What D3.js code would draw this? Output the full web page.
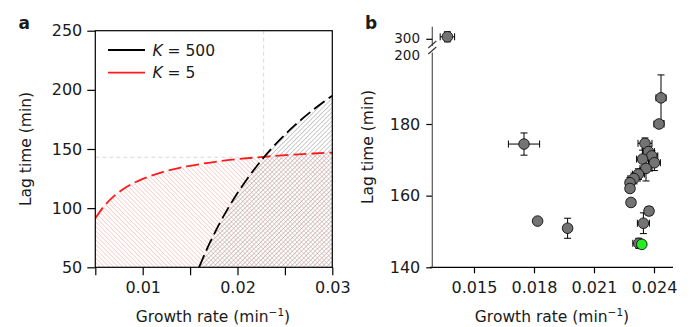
<!DOCTYPE html>
<html><head><meta charset="utf-8">
<script src="https://cdn.jsdelivr.net/npm/d3@7"></script>
<style>
body{margin:0;background:#fff;}
text{font-family:"DejaVu Sans",sans-serif;fill:#1a1a1a;}
</style></head>
<body><svg id="c" width="690" height="327"></svg>
<script>
// ---------- Panel a data ----------
const k500Rate = [0.01594,0.017,0.018,0.019,0.020,0.021,0.022,0.023,0.024,0.025,0.026,0.027,0.028,0.029,0.030];
const k500Lag  = [50.0,69.3,85.4,99.8,112.8,124.5,135.2,145.0,153.9,162.1,169.7,176.7,183.2,189.3,195.0];
const k5Rate = [0.005,0.006,0.007,0.008,0.009,0.010,0.012,0.014,0.016,0.018,0.020,0.022,0.024,0.026,0.028,0.030];
const k5Lag  = [91.4,102.5,110.4,116.4,121.0,124.7,130.3,134.3,137.2,139.6,141.4,142.9,144.2,145.3,146.2,147.0];
const crossRate = 0.02276, crossLag = 143;
const aXTicks = [0.005,0.01,0.015,0.02,0.025,0.03];
const aXLabels = ["","0.01","","0.02","","0.03"];
const aYTicks = [50,100,150,200,250];
const legendLabels = ["500","5"];

// ---------- Panel b data ----------
const bRate = [0.01367,0.0175,0.01818,0.01968,0.02435,0.02425,0.02355,0.02372,0.02389,0.02343,0.02402,0.02360,0.02322,0.02300,0.02280,0.02280,0.02285,0.02375,0.02347,0.02324];
const bLag  = [300.7,174.4,152.9,150.9,187.3,180.0,174.6,172.3,171.1,170.2,169.2,167.6,166.0,164.8,163.6,162.0,158.1,155.7,152.3,146.7];
const bRateErr = [0.00036,0.00078,0.0001,0.0002,0.00025,0.00025,0.00035,0.0003,0.0003,0.0003,0.0003,0.0003,0.0003,0.0003,0.0002,0.0002,0.0002,0.0002,0.0003,0.0003];
const bLagErr  = [1.4,3.1,0.5,2.8,6.4,1.0,1.5,1.5,1.5,2.5,2.2,3.5,1.5,1.5,1.5,1.0,1.0,1.2,2.9,1.4];
const greenRate = [0.02339], greenLag = [146.4];
const bXTicks = [0.015,0.018,0.021,0.024];
const bYTicks = [140,160,180];

const svg = d3.select("#c");

// ================= Panel a =================
const xa = d3.scaleLinear().domain([0.005,0.03]).range([95.3,332.3]);
const ya = d3.scaleLinear().domain([50,250]).range([267.3,30.7]);

const defs = svg.append("defs");
function hatch(id, color, angle){
  const p = defs.append("pattern").attr("id",id).attr("patternUnits","userSpaceOnUse")
    .attr("width",3.2).attr("height",3.2).attr("patternTransform",`rotate(${angle})`);
  p.append("line").attr("x1",0).attr("y1",0).attr("x2",0).attr("y2",3.2)
    .attr("stroke",color).attr("stroke-width",1.1);
}
hatch("hr","#f4b3b3",-45);
hatch("hg","#a3a3a3",45);
defs.append("clipPath").attr("id","clipA").append("rect")
  .attr("x",95.3).attr("y",30.7).attr("width",237).attr("height",236.6);

const k5 = k5Rate.map((r,i)=>[r,k5Lag[i]]);
const k500 = k500Rate.map((r,i)=>[r,k500Lag[i]]);
const area = d3.area().x(d=>xa(d[0])).y0(ya(50)).y1(d=>ya(d[1])).curve(d3.curveMonotoneX);
const line = d3.line().x(d=>xa(d[0])).y(d=>ya(d[1])).curve(d3.curveMonotoneX);
const ga = svg.append("g").attr("clip-path","url(#clipA)");
ga.append("path").datum(k5).attr("d",area).attr("fill","url(#hr)");
ga.append("path").datum(k500).attr("d",area).attr("fill","url(#hg)");

// reference dashed lines
ga.append("line").attr("x1",xa(crossRate)).attr("x2",xa(crossRate)).attr("y1",ya(250)).attr("y2",ya(crossLag))
  .attr("stroke","#d8d8d8").attr("stroke-width",1).attr("stroke-dasharray","4,3");
ga.append("line").attr("x1",xa(0.005)).attr("x2",xa(crossRate)).attr("y1",ya(crossLag)).attr("y2",ya(crossLag))
  .attr("stroke","#d8d8d8").attr("stroke-width",1).attr("stroke-dasharray","4,3");

ga.append("path").datum(k5).attr("d",line).attr("fill","none").attr("stroke","#ff1a1a")
  .attr("stroke-width",1.8).attr("stroke-dasharray","13,5");
ga.append("path").datum(k500).attr("d",line).attr("fill","none").attr("stroke","#000")
  .attr("stroke-width",1.8).attr("stroke-dasharray","13,5");

// frame
svg.append("rect").attr("x",95.3).attr("y",30.7).attr("width",237).attr("height",236.6)
  .attr("fill","none").attr("stroke","#000").attr("stroke-width",1.2);

const axA = svg.append("g").attr("transform","translate(0,267.3)")
  .call(d3.axisBottom(xa).tickValues(aXTicks).tickFormat((d,i)=>aXLabels[i]).tickSize(8).tickPadding(6));
const ayA = svg.append("g").attr("transform","translate(95.3,0)")
  .call(d3.axisLeft(ya).tickValues(aYTicks).tickFormat(d3.format("d")).tickSize(8).tickPadding(5));
[axA,ayA].forEach(g=>{
  g.select(".domain").remove();
  g.selectAll(".tick line").attr("stroke","#000").attr("stroke-width",1.2);
  g.selectAll(".tick text").attr("font-size",16).attr("fill","#1a1a1a").attr("font-family","DejaVu Sans");
});

// legend
const legColors = ["#000","#ff1a1a"];
legendLabels.forEach((lab,i)=>{
  const y = 50 + i*22.7;
  svg.append("line").attr("x1",108).attr("x2",145).attr("y1",y).attr("y2",y)
    .attr("stroke",legColors[i]).attr("stroke-width",1.8);
  const t = svg.append("text").attr("x",152.5).attr("y",y+5.6).attr("font-size",15.5);
  t.append("tspan").attr("font-style","italic").text("K");
  t.append("tspan").text(" = " + lab);
});

svg.append("text").attr("x",18.5).attr("y",29).attr("font-size",17).attr("font-weight","bold").text("a");
svg.append("text").attr("transform","translate(31,149) rotate(-90)").attr("text-anchor","middle")
  .attr("font-size",15.5).text("Lag time (min)");
function xlabel(x){
  const t = svg.append("text").attr("x",x).attr("y",322).attr("text-anchor","middle").attr("font-size",15.5);
  t.append("tspan").text("Growth rate (min");
  t.append("tspan").attr("font-size",10.5).attr("dy",-6).text("−1");
  t.append("tspan").attr("dy",6).text(")");
}
xlabel(213);

// ================= Panel b =================
const xb = d3.scaleLinear().domain([0.015,0.024]).range([474,654]);
const yb = d3.scaleLinear().domain([140,180]).range([267.3,124]);
const pxPerMin = (267.3-124)/40;
const ybTop = d3.scaleLinear().domain([300,301]).range([39.3,39.3-pxPerMin]);
const yAny = v => v >= 250 ? ybTop(v) : yb(v);

// x axis
const axB = svg.append("g").attr("transform","translate(0,267.3)")
  .call(d3.axisBottom(xb).tickValues(bXTicks).tickFormat(d3.format(".3f")).tickSize(6).tickPadding(8));
axB.select(".domain").remove();
axB.append("line").attr("x1",430).attr("x2",673).attr("y1",0).attr("y2",0).attr("stroke","#000").attr("stroke-width",1.2);
// y axis
const ayB = svg.append("g").attr("transform","translate(432.3,0)")
  .call(d3.axisLeft(yb).tickValues(bYTicks).tickFormat(d3.format("d")).tickSize(6).tickPadding(6));
ayB.select(".domain").remove();
[axB,ayB].forEach(g=>{
  g.selectAll(".tick line").attr("stroke","#000").attr("stroke-width",1.2);
  g.selectAll(".tick text").attr("font-size",16).attr("fill","#1a1a1a").attr("font-family","DejaVu Sans");
});
const axisCol = "#555";
svg.append("line").attr("x1",432.3).attr("x2",432.3).attr("y1",267.3).attr("y2",52.5).attr("stroke",axisCol).attr("stroke-width",1.2);
svg.append("line").attr("x1",432.3).attr("x2",432.3).attr("y1",26.7).attr("y2",46).attr("stroke",axisCol).attr("stroke-width",1.2);
// top segment tick
svg.append("line").attr("x1",426.3).attr("x2",432.3).attr("y1",ybTop(300)).attr("y2",ybTop(300)).attr("stroke","#000").attr("stroke-width",1.2);
svg.append("text").attr("x",420).attr("y",43).attr("text-anchor","end").attr("font-size",13.5).text("300");
svg.append("text").attr("x",420).attr("y",59.5).attr("text-anchor","end").attr("font-size",13.5).text("200");
// break marks
[[44.5],[50.5]].forEach(([y])=>{
  svg.append("line").attr("x1",428.3).attr("x2",436.3).attr("y1",y+3.5).attr("y2",y-3.5).attr("stroke","#333").attr("stroke-width",1.1);
});

// error bars
const gb = svg.append("g");
const cap = 3.5;
bRate.forEach((r,i)=>{
  const cx = xb(r), cy = yAny(bLag[i]);
  const x0 = xb(r-bRateErr[i]), x1 = xb(r+bRateErr[i]);
  const y0 = yAny(bLag[i]-bLagErr[i]), y1 = yAny(bLag[i]+bLagErr[i]);
  const g = gb.append("g").attr("stroke","#000").attr("stroke-width",1);
  g.append("line").attr("x1",x0).attr("x2",x1).attr("y1",cy).attr("y2",cy);
  g.append("line").attr("x1",x0).attr("x2",x0).attr("y1",cy-cap).attr("y2",cy+cap);
  g.append("line").attr("x1",x1).attr("x2",x1).attr("y1",cy-cap).attr("y2",cy+cap);
  g.append("line").attr("x1",cx).attr("x2",cx).attr("y1",y0).attr("y2",y1);
  g.append("line").attr("x1",cx-cap).attr("x2",cx+cap).attr("y1",y0).attr("y2",y0);
  g.append("line").attr("x1",cx-cap).attr("x2",cx+cap).attr("y1",y1).attr("y2",y1);
});
gb.selectAll("circle.pt").data(bRate.map((r,i)=>[r,bLag[i]])).enter().append("circle")
  .attr("class","pt").attr("cx",d=>xb(d[0])).attr("cy",d=>yAny(d[1])).attr("r",5.3)
  .attr("fill","#737373").attr("stroke","#111").attr("stroke-width",0.9);
gb.selectAll("circle.gr").data(greenRate.map((r,i)=>[r,greenLag[i]])).enter().append("circle")
  .attr("class","gr").attr("cx",d=>xb(d[0])).attr("cy",d=>yb(d[1])).attr("r",5.3)
  .attr("fill","#22ee22").attr("stroke","#111").attr("stroke-width",0.9);

svg.append("text").attr("x",365).attr("y",29).attr("font-size",17).attr("font-weight","bold").text("b");
svg.append("text").attr("transform","translate(373,147) rotate(-90)").attr("text-anchor","middle")
  .attr("font-size",15.5).text("Lag time (min)");
xlabel(552);
</script></body></html>
